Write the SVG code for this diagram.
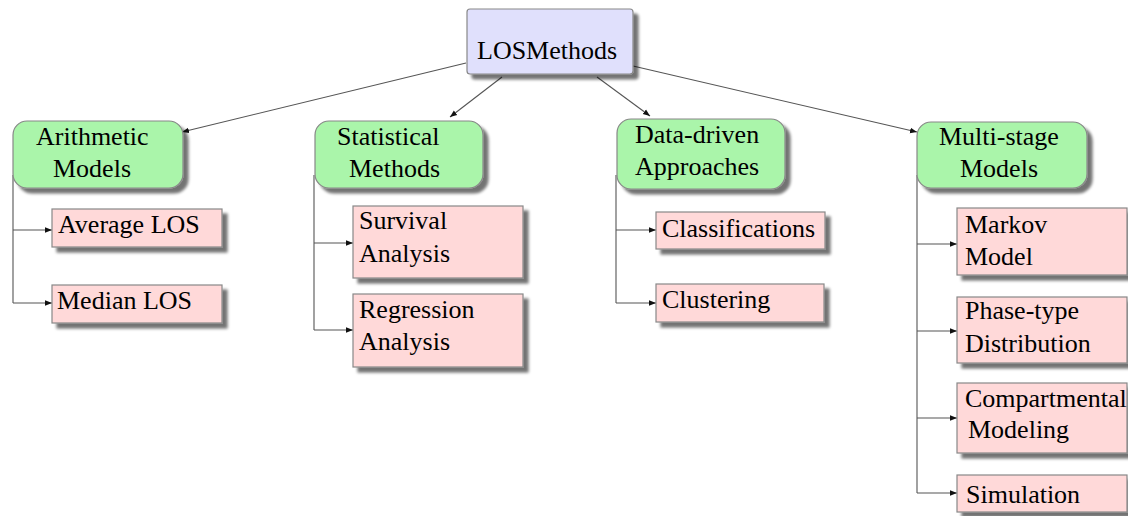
<svg xmlns="http://www.w3.org/2000/svg" width="1128" height="516" viewBox="0 0 1128 516">
<defs>
<filter id="sh" x="-10%" y="-20%" width="130%" height="150%">
<feOffset in="SourceAlpha" dx="5" dy="5" result="o"/>
<feGaussianBlur in="o" stdDeviation="1.5" result="b"/>
<feComponentTransfer in="b" result="c"><feFuncA type="linear" slope="0.55"/></feComponentTransfer>
<feMerge><feMergeNode in="c"/><feMergeNode in="SourceGraphic"/></feMerge>
</filter>
<marker id="ah" viewBox="0 0 10 10" refX="10" refY="5" markerWidth="7" markerHeight="7" markerUnits="userSpaceOnUse" orient="auto">
<path d="M0,1 L10,5 L0,9 z" fill="#111"/>
</marker>
</defs>
<style>
text{font-size:26px;fill:#000}
.root{fill:#e0e0fc;stroke:#888;stroke-width:1.2}
.cat{fill:#aaf5aa;stroke:#888;stroke-width:1.2}
.leaf{fill:#ffd9d9;stroke:#888;stroke-width:1.2}
.c{fill:none;stroke:#555;stroke-width:1.1}
.a{marker-end:url(#ah)}
</style>
<rect width="1128" height="516" fill="#fff"/>
<g id="connectors">
<line class="c a" x1="466" y1="63" x2="182" y2="132"/>
<line class="c a" x1="502" y1="77" x2="450" y2="117"/>
<line class="c a" x1="597" y1="77" x2="650" y2="116"/>
<line class="c a" x1="633" y1="66" x2="917" y2="132"/>
<path class="c" d="M13,175 V303"/>
<line class="c a" x1="13" y1="230" x2="52" y2="230"/>
<line class="c a" x1="13" y1="303" x2="52" y2="303"/>
<path class="c" d="M314,175 V330"/>
<line class="c a" x1="314" y1="243" x2="353" y2="243"/>
<line class="c a" x1="314" y1="330" x2="353" y2="330"/>
<path class="c" d="M616,175 V303"/>
<line class="c a" x1="616" y1="230" x2="656" y2="230"/>
<line class="c a" x1="616" y1="303" x2="656" y2="303"/>
<path class="c" d="M917,175 V493"/>
<line class="c a" x1="917" y1="244" x2="957" y2="244"/>
<line class="c a" x1="917" y1="331" x2="957" y2="331"/>
<line class="c a" x1="917" y1="418" x2="957" y2="418"/>
<line class="c a" x1="917" y1="493" x2="957" y2="493"/>
</g>
<g font-family="'Liberation Serif', 'DejaVu Serif', serif">
<g id="root"><rect class="root" x="467" y="9" width="166" height="65" rx="3" filter="url(#sh)"/><text x="477" y="59">LOSMethods</text></g>
<g id="arithmetic"><rect class="cat" x="13" y="121" width="170" height="67" rx="14" filter="url(#sh)"/><text x="36" y="145">Arithmetic</text><text x="53" y="177">Models</text></g>
<g id="statistical"><rect class="cat" x="315" y="121" width="168" height="67" rx="14" filter="url(#sh)"/><text x="337" y="145">Statistical</text><text x="349" y="177">Methods</text></g>
<g id="datadriven"><rect class="cat" x="617" y="119" width="168" height="70" rx="14" filter="url(#sh)"/><text x="635" y="143">Data-driven</text><text x="635" y="175">Approaches</text></g>
<g id="multistage"><rect class="cat" x="917" y="122" width="170" height="66" rx="14" filter="url(#sh)"/><text x="939" y="145">Multi-stage</text><text x="960" y="177">Models</text></g>
<g id="average"><rect class="leaf" x="52" y="209" width="170" height="38" filter="url(#sh)"/><text x="58" y="233">Average LOS</text></g>
<g id="median"><rect class="leaf" x="52" y="285" width="170" height="38" filter="url(#sh)"/><text x="57" y="309">Median LOS</text></g>
<g id="survival"><rect class="leaf" x="353" y="206" width="170" height="72" filter="url(#sh)"/><text x="359" y="229">Survival</text><text x="359" y="262">Analysis</text></g>
<g id="regression"><rect class="leaf" x="353" y="294" width="170" height="73" filter="url(#sh)"/><text x="359" y="318">Regression</text><text x="359" y="350">Analysis</text></g>
<g id="classifications"><rect class="leaf" x="656" y="212" width="169" height="37" filter="url(#sh)"/><text x="662" y="237">Classifications</text></g>
<g id="clustering"><rect class="leaf" x="656" y="284" width="168" height="38" filter="url(#sh)"/><text x="662" y="308">Clustering</text></g>
<g id="markov"><rect class="leaf" x="957" y="208" width="170" height="67" filter="url(#sh)"/><text x="965" y="233">Markov</text><text x="965" y="265">Model</text></g>
<g id="phasetype"><rect class="leaf" x="957" y="297" width="170" height="66" filter="url(#sh)"/><text x="965" y="319">Phase-type</text><text x="965" y="352">Distribution</text></g>
<g id="compartmental"><rect class="leaf" x="957" y="383" width="170" height="70" filter="url(#sh)"/><text x="965" y="407">Compartmental</text><text x="968" y="438">Modeling</text></g>
<g id="simulation"><rect class="leaf" x="957" y="475" width="170" height="37" filter="url(#sh)"/><text x="966" y="503">Simulation</text></g>
</g>
</svg>
